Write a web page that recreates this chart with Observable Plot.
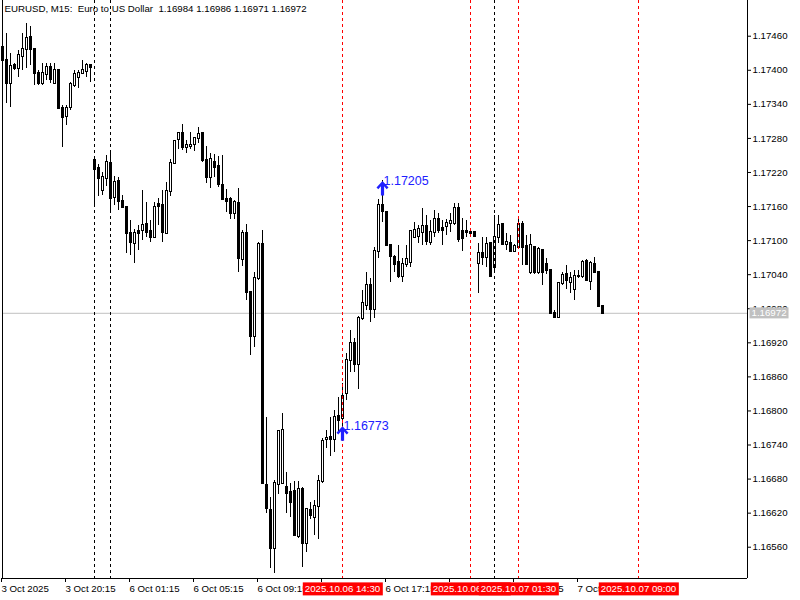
<!DOCTYPE html>
<html><head><meta charset="utf-8">
<script src="https://cdn.jsdelivr.net/npm/d3@7"></script>
<script src="https://cdn.jsdelivr.net/npm/@observablehq/plot@0.6"></script>
<style>
html,body{margin:0;padding:0;background:#fff;}
#chart{width:800px;height:600px;overflow:hidden;}
</style></head><body><div id="chart"></div>
<script>
// ---- data (EURUSD M15 bars, left to right) ----
const opens = [1.17440,1.17417,1.17377,1.17409,1.17403,1.17424,1.17437,1.17458,1.17437,1.17395,
1.17377,1.17393,1.17405,1.17377,1.17400,1.17333,1.17319,1.17335,1.17373,1.17388,
1.17395,1.17398,1.17409,1.17241,1.17227,1.17189,1.17210,1.17236,1.17176,1.17204,
1.17169,1.17159,1.17113,1.17095,1.17116,1.17118,1.17129,1.17116,1.17106,1.17164,
1.17162,1.17113,1.17187,1.17236,1.17278,1.17289,1.17264,1.17266,1.17270,1.17280,
1.17289,1.17241,1.17212,1.17238,1.17231,1.17197,1.17173,1.17173,1.17148,1.17166,
1.17067,1.17113,1.17009,1.16932,1.17034,1.17094,1.16669,1.16625,1.16557,1.16671,
1.16673,1.16666,1.16657,1.16659,1.16578,1.16661,1.16567,1.16624,1.16613,1.16632,
1.16675,1.16749,1.16754,1.16750,1.16791,1.16786,1.16831,1.16889,1.16919,1.16882,
1.16963,1.16986,1.17021,1.16979,1.17081,1.17162,1.17150,1.17092,1.17071,1.17062,
1.17036,1.17058,1.17062,1.17106,1.17108,1.17115,1.17124,1.17097,1.17115,1.17138,
1.17122,1.17124,1.17131,1.17131,1.17157,1.17116,1.17116,1.17115,1.17115,1.17060,
1.17078,1.17071,1.17095,1.17053,1.17106,1.17129,1.17094,1.17095,1.17081,1.17088,
1.17129,1.17090,1.17043,1.17088,1.17043,1.17083,1.17058,1.17048,1.16972,1.16965,
1.17025,1.17041,1.17027,1.17014,1.17037,1.17036,1.17064,1.17028,1.17058,1.17044,
1.16984];
const highs = [1.17444,1.17465,1.17430,1.17412,1.17435,1.17465,1.17483,1.17477,1.17439,1.17400,
1.17412,1.17412,1.17412,1.17412,1.17402,1.17338,1.17338,1.17379,1.17400,1.17400,
1.17417,1.17412,1.17410,1.17247,1.17234,1.17220,1.17250,1.17257,1.17213,1.17212,
1.17180,1.17160,1.17136,1.17120,1.17127,1.17189,1.17168,1.17136,1.17168,1.17175,
1.17189,1.17203,1.17243,1.17277,1.17291,1.17305,1.17277,1.17291,1.17282,1.17300,
1.17291,1.17266,1.17254,1.17252,1.17248,1.17250,1.17190,1.17176,1.17171,1.17192,
1.17118,1.17129,1.17011,1.17044,1.17097,1.17118,1.16789,1.16648,1.16678,1.16766,
1.16796,1.16691,1.16673,1.16675,1.16675,1.16666,1.16629,1.16638,1.16643,1.16687,
1.16752,1.16766,1.16789,1.16801,1.16824,1.16849,1.16902,1.16942,1.16928,1.16967,
1.17013,1.17044,1.17034,1.17088,1.17173,1.17205,1.17152,1.17094,1.17074,1.17092,
1.17069,1.17092,1.17118,1.17132,1.17127,1.17157,1.17145,1.17136,1.17153,1.17148,
1.17136,1.17138,1.17148,1.17166,1.17166,1.17139,1.17136,1.17120,1.17116,1.17095,
1.17106,1.17106,1.17097,1.17145,1.17145,1.17131,1.17113,1.17109,1.17094,1.17139,
1.17134,1.17109,1.17111,1.17090,1.17087,1.17085,1.17069,1.17050,1.16977,1.17027,
1.17043,1.17057,1.17043,1.17048,1.17048,1.17065,1.17066,1.17064,1.17071,1.17046,
1.16986];
const lows = [1.17414,1.17342,1.17335,1.17400,1.17388,1.17400,1.17403,1.17409,1.17373,1.17373,
1.17373,1.17382,1.17377,1.17375,1.17331,1.17264,1.17303,1.17329,1.17370,1.17368,
1.17393,1.17388,1.17379,1.17162,1.17178,1.17180,1.17196,1.17148,1.17162,1.17153,
1.17157,1.17078,1.17074,1.17060,1.17083,1.17101,1.17106,1.17097,1.17104,1.17127,
1.17097,1.17111,1.17178,1.17234,1.17261,1.17259,1.17254,1.17261,1.17257,1.17271,
1.17238,1.17201,1.17192,1.17212,1.17194,1.17171,1.17150,1.17138,1.17138,1.17043,
1.17055,1.16995,1.16898,1.16911,1.17030,1.16671,1.16620,1.16523,1.16514,1.16652,
1.16671,1.16620,1.16613,1.16578,1.16576,1.16525,1.16550,1.16608,1.16581,1.16574,
1.16673,1.16733,1.16719,1.16726,1.16761,1.16773,1.16819,1.16868,1.16868,1.16837,
1.16960,1.16977,1.16956,1.16963,1.17069,1.17132,1.17090,1.17027,1.17043,1.17034,
1.17027,1.17053,1.17053,1.17104,1.17095,1.17092,1.17092,1.17092,1.17106,1.17113,
1.17092,1.17109,1.17115,1.17127,1.17097,1.17080,1.17106,1.17108,1.17106,1.17006,
1.17057,1.17053,1.17036,1.17043,1.17095,1.17092,1.17083,1.17080,1.17080,1.17085,
1.17057,1.17057,1.17041,1.17041,1.17041,1.17021,1.17041,1.16970,1.16963,1.16963,
1.17021,1.17014,1.17007,1.16995,1.17034,1.17034,1.17028,1.17013,1.17043,1.16983,
1.16971];
const closes = [1.17417,1.17377,1.17407,1.17403,1.17426,1.17437,1.17456,1.17437,1.17395,1.17377,
1.17395,1.17405,1.17384,1.17400,1.17333,1.17317,1.17333,1.17375,1.17393,1.17395,
1.17400,1.17409,1.17405,1.17226,1.17210,1.17212,1.17238,1.17175,1.17203,1.17169,
1.17159,1.17113,1.17097,1.17113,1.17113,1.17127,1.17115,1.17106,1.17159,1.17160,
1.17115,1.17187,1.17236,1.17275,1.17289,1.17264,1.17268,1.17268,1.17280,1.17287,
1.17241,1.17212,1.17243,1.17229,1.17199,1.17173,1.17169,1.17148,1.17168,1.17069,
1.17113,1.17009,1.16932,1.17034,1.17094,1.16673,1.16629,1.16558,1.16673,1.16763,
1.16766,1.16655,1.16638,1.16581,1.16661,1.16567,1.16627,1.16615,1.16632,1.16675,
1.16747,1.16752,1.16749,1.16789,1.16784,1.16826,1.16889,1.16919,1.16882,1.16963,
1.16990,1.17021,1.16979,1.17081,1.17162,1.17152,1.17092,1.17072,1.17058,1.17036,
1.17058,1.17067,1.17116,1.17118,1.17120,1.17124,1.17099,1.17115,1.17138,1.17118,
1.17118,1.17131,1.17134,1.17157,1.17102,1.17104,1.17115,1.17113,1.17108,1.17078,
1.17071,1.17094,1.17037,1.17106,1.17127,1.17094,1.17097,1.17081,1.17090,1.17129,
1.17088,1.17058,1.17092,1.17043,1.17085,1.17043,1.17048,1.16972,1.16965,1.17025,
1.17039,1.17030,1.17034,1.17036,1.17036,1.17062,1.17030,1.17060,1.17044,1.16984,
1.16972];

const header = "EURUSD, M15:  Euro to US Dollar  1.16984 1.16986 1.16971 1.16972";
const currentPrice = 1.16972;
const priceTicks = [1.16560,1.16620,1.16680,1.16740,1.16800,1.16860,1.16920,1.16980,
                    1.17040,1.17100,1.17160,1.17220,1.17280,1.17340,1.17400,1.17460];
const timeTickIdx = [0,16,32,48,64,80,96,112,128,144];
const timeTickLabels = ["3 Oct 2025","3 Oct 20:15","6 Oct 01:15","6 Oct 05:15","6 Oct 09:15",
                        "6 Oct 13:15","6 Oct 17:15","6 Oct 21:15","7 Oct 01:15","7 Oct 05:15"];
const blackLines = [23,27,123];
const redLines = [85,117,129,159];
const redLabels = ["2025.10.06 14:30","2025.10.06 22:30","2025.10.07 01:30","2025.10.07 09:00"];
const extremeBars = [95,85];
const extremePrices = [1.17205,1.16773];

// ---- derived tables ----
const bars = opens.map((o,i)=>({i, o, h: highs[i], l: lows[i], c: closes[i], up: closes[i] >= o}));
const marks2 = extremeBars.map((b,k)=>({i:b, p:extremePrices[k]}));
const redData = redLines.map((x,k)=>({x, label: redLabels[k]}));

const arrowSymbol = {
  draw(ctx) {
    ctx.moveTo(0,0);
    ctx.lineTo(6,6.5);
    ctx.lineTo(4.2,8.2);
    ctx.lineTo(1.6,5.2);
    ctx.lineTo(1.6,14.5);
    ctx.lineTo(-1.6,14.5);
    ctx.lineTo(-1.6,5.2);
    ctx.lineTo(-4.2,8.2);
    ctx.lineTo(-6,6.5);
    ctx.closePath();
  }
};

const blue = "#2020ff";
const font = "'Liberation Sans', Arial, sans-serif";

const plot = Plot.plot({
  width: 800, height: 600,
  marginLeft: 2, marginRight: 53, marginTop: 0, marginBottom: 22,
  x: {domain: [0, 186.25], axis: null},
  y: {domain: [1.165049, 1.175229], axis: null},
  style: {fontFamily: font, fontSize: "9.7px", background: "#fff", color: "#000", whiteSpace: "pre", overflow: "visible"},
  marks: [
    Plot.ruleY([currentPrice], {stroke: "#c0c0c0"}),
    Plot.ruleX(bars, {x: "i", y1: "l", y2: "h", stroke: "#000", shapeRendering: "crispEdges"}),
    Plot.rect(bars, {x1: d => d.i - 0.25, x2: d => d.i + 0.25,
      y1: d => Math.min(d.o, d.c), y2: d => Math.max(d.o, d.c),
      insetTop: -0.5, insetBottom: -0.5,
      fill: d => d.up ? "#fff" : "#000", stroke: "#000", shapeRendering: "crispEdges"}),
    Plot.ruleX(blackLines, {stroke: "#000", strokeDasharray: "3,3"}),
    Plot.ruleX(redLines, {stroke: "#ff0000", strokeDasharray: "3,3"}),
    Plot.text(marks2, {x: "i", y: "p", text: d => d.p.toFixed(5), textAnchor: "start", dx: 1,
      fill: blue, fontSize: 12.5, fontFamily: font}),
    Plot.dot(marks2, {x: "i", y: "p", symbol: arrowSymbol, fill: blue, stroke: "none", r: 5}),
    // frame lines
    Plot.ruleX([0, 186.25], {stroke: "#000"}),
    Plot.ruleY([1.165049], {stroke: "#000"}),
    Plot.axisY(priceTicks, {anchor: "right", tickSize: 3, tickPadding: 2, textAnchor: "start",
      fontSize: 9.7, tickFormat: d => d.toFixed(5), fill: "#000"}),
    Plot.axisX(timeTickIdx, {anchor: "bottom", tickSize: 4, tickPadding: 3, textAnchor: "start", dx: -1,
      fontSize: 9.7, tickFormat: d => timeTickLabels[timeTickIdx.indexOf(d)], fill: "#000"}),
    Plot.text([header], {frameAnchor: "top-left", text: d => d, textAnchor: "start", lineAnchor: "top", dx: 2, dy: 5, fill: "#000"}),
    Plot.text(redData, {x: "x", frameAnchor: "bottom", text: "label", textAnchor: "middle", lineAnchor: "top", dy: 7, fill: "#fff"}),
    Plot.text([currentPrice], {frameAnchor: "right", y: d => d, text: d => d.toFixed(5), textAnchor: "start", dx: 4, fill: "#fff"})
  ]
});
document.getElementById("chart").append(plot);

function boxify(labels, fill, padX, padTop, padBottom) {
  const want = new Set(labels);
  const texts = Array.from(plot.querySelectorAll("text")).filter(t => want.has(t.textContent) && t.getAttribute("fill") !== "#000" && getComputedStyle(t).fill !== "rgb(0, 0, 0)");
  texts.forEach(t => {
    const b = t.getBBox();
    const r = document.createElementNS("http://www.w3.org/2000/svg", "rect");
    r.setAttribute("x", b.x - padX);
    r.setAttribute("y", b.y - padTop);
    r.setAttribute("width", b.width + 2 * padX);
    r.setAttribute("height", b.height + padTop + padBottom);
    r.setAttribute("fill", fill);
    r.setAttribute("stroke", "none");
    const tr = t.getAttribute("transform");
    if (tr) r.setAttribute("transform", tr);
    t.parentNode.insertBefore(r, t);
  });
}
boxify(redLabels, "#ff0000", 2, 1, 1);
boxify([currentPrice.toFixed(5)], "#c0c0c0", 2, 0, 0);
</script></body></html>
